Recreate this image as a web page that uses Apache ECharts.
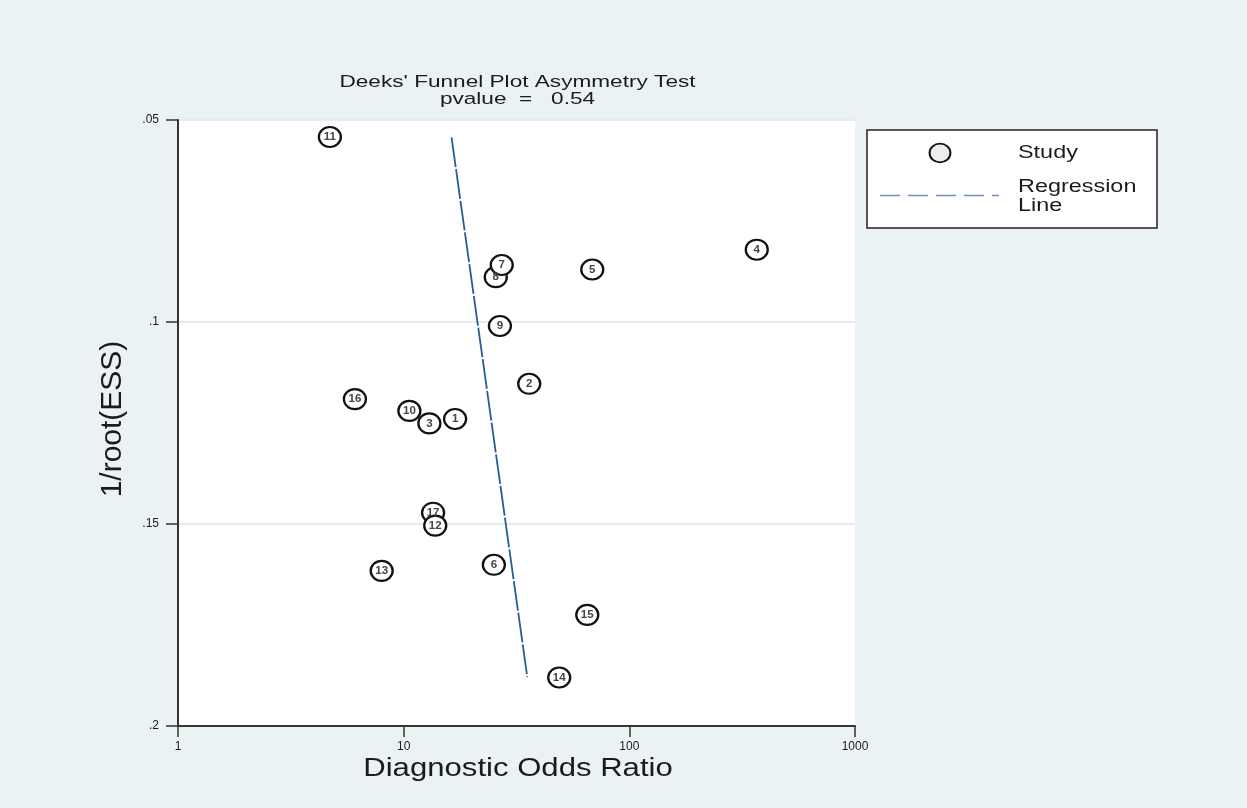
<!DOCTYPE html>
<html>
<head>
<meta charset="utf-8">
<script src="https://cdn.jsdelivr.net/npm/echarts@6/dist/echarts.min.js"></script>
<style>
  html, body { margin: 0; padding: 0; background: #eaf2f3; }
  #chart { width: 1247px; height: 808px; }
</style>
</head>
<body>
<div id="chart"></div>
<script>
// Study identifiers, in drawing order (later circles sit on top of earlier ones)
const studyIds = [1, 2, 10, 3, 4, 5, 6, 8, 7, 9, 11, 17, 12, 13, 14, 15, 16];
// Diagnostic odds ratio of each study (log-scaled x axis)
const diagnosticOR = [16.9, 36.0, 10.6, 13.0, 367, 68.5, 25.1, 25.6, 27.2, 26.7, 4.71, 13.5, 13.8, 7.99, 48.9, 65.1, 6.08];
// 1/sqrt(effective sample size) of each study (inverted y axis)
const invRootESS = [0.1240, 0.1153, 0.1220, 0.1251, 0.0821, 0.0870, 0.1601, 0.0889, 0.0859, 0.1010, 0.0542, 0.1472, 0.1504, 0.1616, 0.1880, 0.1725, 0.1191];

// Fitted regression line end points
const regressionOR = [16.3, 35.3];
const regressionY = [0.0543, 0.1879];

// Axis ticks and their labels
const xTicks = [1, 10, 100, 1000];
const xTickLabels = ['1', '10', '100', '1000'];
const yTicks = [0.05, 0.1, 0.15, 0.2];
const yTickLabels = ['.05', '.1', '.15', '.2'];

const titleLines = ["Deeks' Funnel Plot Asymmetry Test", 'pvalue  =   0.54'];
const xTitle = 'Diagnostic Odds Ratio';
const yTitle = '1/root(ESS)';
const legendNames = ['Study', 'Regression\nLine'];

const FONT = "'Liberation Sans', Arial, Helvetica, sans-serif";
const INK = '#1b1b1b';
const AXIS = '#333333';
const LINE_BLUE = '#295d93';
const LEGEND_BLUE = '#6f90bb';

const studyPoints = studyIds.map((id, i) => ({ value: [diagnosticOR[i], invRootESS[i]], name: String(id) }));
const regressionPoints = regressionOR.map((x, i) => [x, regressionY[i]]);

function nearestLabel(v, ticks, labels) {
  let best = 0;
  ticks.forEach((t, i) => { if (Math.abs(t - v) < Math.abs(ticks[best] - v)) best = i; });
  return labels[best];
}

const chart = echarts.init(document.getElementById('chart'), null, { renderer: 'canvas' });

chart.setOption({
  animation: false,
  backgroundColor: '#eaf2f3',
  grid: {
    left: 178, top: 120, width: 677, height: 606,
    show: true, backgroundColor: '#ffffff', borderWidth: 0
  },
  xAxis: {
    type: 'log',
    logBase: 10,
    min: xTicks[0],
    max: xTicks[xTicks.length - 1],
    splitNumber: 3,
    axisLine: { show: true, onZero: false, lineStyle: { color: AXIS, width: 2 } },
    axisTick: { show: true, length: 11, lineStyle: { color: AXIS, width: 1.5 } },
    axisLabel: {
      fontSize: 12, color: INK, fontFamily: FONT, margin: 15,
      formatter: v => nearestLabel(v, xTicks, xTickLabels)
    },
    splitLine: { show: false },
    minorTick: { show: false }
  },
  yAxis: {
    type: 'value',
    inverse: true,
    min: 0.05,
    max: 0.2,
    interval: 0.05,
    name: yTitle,
    nameLocation: 'middle',
    nameGap: 50,
    nameTextStyle: { fontSize: 30, color: INK, fontFamily: FONT, padding: [0, 0, 0, 8] },
    axisLine: { show: true, onZero: false, lineStyle: { color: AXIS, width: 2 } },
    axisTick: { show: true, length: 12, lineStyle: { color: AXIS, width: 1.5 } },
    axisLabel: {
      fontSize: 12, color: INK, fontFamily: FONT, margin: 19,
      formatter: v => nearestLabel(v, yTicks, yTickLabels)
    },
    splitLine: { show: true, lineStyle: { color: '#e3edf0', width: 2 } }
  },
  series: [
    {
      name: 'Regression Line',
      type: 'line',
      data: regressionPoints,
      showSymbol: false,
      silent: true,
      lineStyle: { color: LINE_BLUE, width: 1.8, type: [30, 2] },
      z: 2
    },
    {
      name: 'Study',
      type: 'scatter',
      data: studyPoints,
      symbol: 'circle',
      symbolSize: [22, 20],
      silent: true,
      itemStyle: { color: '#ffffff', borderColor: '#111111', borderWidth: 2.2, opacity: 1 },
      label: {
        show: true,
        position: 'inside',
        formatter: p => p.name,
        fontSize: 11.5,
        fontWeight: 'bold',
        color: '#454545',
        fontFamily: FONT
      },
      z: 3
    }
  ],
  graphic: [
    // chart title (two lines)
    {
      type: 'text', x: 517.5, y: 82, scaleX: 1.3, silent: true,
      style: { text: titleLines[0], x: 0, y: 0, align: 'center', verticalAlign: 'middle',
               textAlign: 'center', textVerticalAlign: 'middle', fill: INK, font: '17.4px ' + FONT }
    },
    {
      type: 'text', x: 517.5, y: 99.5, scaleX: 1.3, silent: true,
      style: { text: titleLines[1], x: 0, y: 0, align: 'center', verticalAlign: 'middle',
               textAlign: 'center', textVerticalAlign: 'middle', fill: INK, font: '17.4px ' + FONT }
    },
    // x-axis title
    {
      type: 'text', x: 518, y: 769, scaleX: 1.22, silent: true,
      style: { text: xTitle, x: 0, y: 0, align: 'center', verticalAlign: 'middle',
               textAlign: 'center', textVerticalAlign: 'middle', fill: INK, font: '25.5px ' + FONT }
    },
    // legend box
    {
      type: 'rect', silent: true,
      shape: { x: 867, y: 130, width: 290, height: 98 },
      style: { fill: '#ffffff', stroke: '#222222', lineWidth: 1.5 }
    },
    {
      type: 'circle', x: 940, y: 153, scaleX: 1.12, silent: true,
      shape: { cx: 0, cy: 0, r: 9.3 },
      style: { fill: '#eeeeee', stroke: '#111111', lineWidth: 1.8 }
    },
    {
      type: 'line', silent: true,
      shape: { x1: 880, y1: 195.5, x2: 999, y2: 195.5 },
      style: { stroke: LEGEND_BLUE, lineWidth: 1.6, lineDash: [20, 8] }
    },
    {
      type: 'text', x: 1018, y: 153, scaleX: 1.22, silent: true,
      style: { text: legendNames[0], x: 0, y: 0, align: 'left', verticalAlign: 'middle',
               textAlign: 'left', textVerticalAlign: 'middle', fill: INK, font: '19.2px ' + FONT }
    },
    {
      type: 'text', x: 1018, y: 196, scaleX: 1.22, silent: true,
      style: { text: legendNames[1], x: 0, y: 0, align: 'left', verticalAlign: 'middle',
               textAlign: 'left', textVerticalAlign: 'middle', lineHeight: 19.5,
               fill: INK, font: '19.2px ' + FONT }
    }
  ]
});
</script>
</body>
</html>
